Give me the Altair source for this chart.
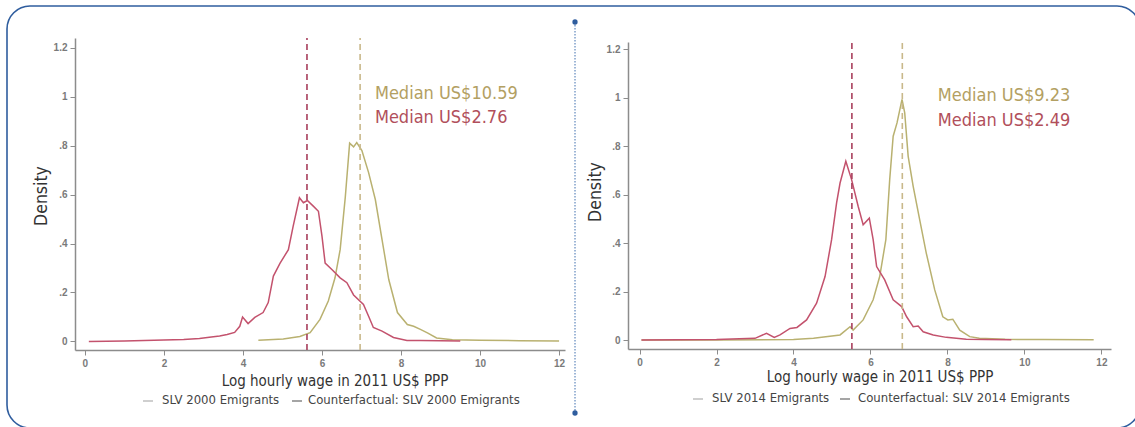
import math
import altair as alt
import pandas as pd

# Kernel density of log hourly wage (2011 US$ PPP), El Salvador emigrants.
# 2000 cohort: actual emigrants
act00_x = [4.39, 5.02, 5.44, 5.70, 5.95, 6.16, 6.33, 6.46, 6.59, 6.70, 6.80, 6.88,
           7.01, 7.18, 7.35, 7.52, 7.69, 7.91, 8.16, 8.32, 8.49, 8.68, 8.90, 9.30,
           10.0, 11.0, 12.0]
act00_y = [0.005, 0.010, 0.020, 0.036, 0.090, 0.165, 0.260, 0.375, 0.590, 0.810,
           0.795, 0.813, 0.780, 0.690, 0.580, 0.416, 0.253, 0.118, 0.069, 0.062,
           0.049, 0.034, 0.014, 0.007, 0.005, 0.003, 0.002]
# 2000 cohort: counterfactual wages at home
cf00_x = [0.10, 1.0, 2.0, 2.5, 2.9, 3.2, 3.41, 3.6, 3.79, 3.92, 3.99, 4.13, 4.30,
          4.51, 4.64, 4.77, 4.94, 5.15, 5.27, 5.43, 5.53, 5.63, 5.78, 5.91, 6.0,
          6.08, 6.25, 6.46, 6.63, 6.80, 7.05, 7.18, 7.30, 7.52, 7.81, 8.15, 8.49,
          9.0, 9.5]
cf00_y = [0.0, 0.002, 0.006, 0.008, 0.012, 0.018, 0.022, 0.028, 0.037, 0.062, 0.100,
          0.073, 0.098, 0.118, 0.159, 0.267, 0.320, 0.375, 0.470, 0.587, 0.567,
          0.576, 0.553, 0.532, 0.430, 0.320, 0.294, 0.260, 0.240, 0.190, 0.151,
          0.103, 0.057, 0.042, 0.016, 0.004, 0.004, 0.003, 0.002]

# 2014 cohort: actual emigrants
act14_x = [0.05, 2.0, 4.0, 4.52, 5.21, 5.47, 5.55, 5.81, 6.07, 6.24, 6.40, 6.50,
           6.59, 6.69, 6.82, 6.89, 6.98, 7.11, 7.28, 7.45, 7.67, 7.88, 8.01, 8.14,
           8.32, 8.58, 8.83, 9.5, 10.5, 11.8]
act14_y = [0.0, 0.0, 0.002, 0.007, 0.021, 0.055, 0.041, 0.083, 0.166, 0.262, 0.414,
           0.662, 0.841, 0.896, 0.993, 0.938, 0.758, 0.634, 0.496, 0.359, 0.207,
           0.096, 0.083, 0.086, 0.041, 0.014, 0.007, 0.003, 0.002, 0.001]
# 2014 cohort: counterfactual wages at home
cf14_x = [0.05, 1.0, 2.0, 3.0, 3.3, 3.5, 3.65, 3.91, 4.09, 4.34, 4.60, 4.82, 4.99,
          5.12, 5.21, 5.36, 5.51, 5.68, 5.81, 5.97, 6.07, 6.16, 6.37, 6.59, 6.81,
          6.94, 7.11, 7.24, 7.37, 7.63, 7.97, 8.49, 9.0, 9.66]
cf14_y = [0.0, 0.001, 0.002, 0.007, 0.028, 0.011, 0.021, 0.048, 0.052, 0.083, 0.152,
          0.262, 0.414, 0.566, 0.648, 0.738, 0.662, 0.552, 0.476, 0.503, 0.414,
          0.303, 0.248, 0.166, 0.138, 0.096, 0.055, 0.058, 0.034, 0.021, 0.011,
          0.003, 0.002, 0.001]

# Median hourly wages in US$ (actual, counterfactual)
medians_00 = [10.59, 2.76]
medians_14 = [9.23, 2.49]

legend_00 = ["SLV 2000 Emigrants", "Counterfactual: SLV 2000 Emigrants"]
legend_14 = ["SLV 2014 Emigrants", "Counterfactual: SLV 2014 Emigrants"]

x_ticks = [0, 2, 4, 6, 8, 10, 12]
y_ticks = [0, 0.2, 0.4, 0.6, 0.8, 1.0, 1.2]
x_title = "Log hourly wage in 2011 US$ PPP"
y_title = "Density"

GOLD_LINE = "#b9b170"
RED_LINE = "#c3526d"
GOLD_RULE = "#c9b88a"
RED_RULE = "#a83f5c"
GOLD_TEXT = "#b3a062"
RED_TEXT = "#b14f5b"
FRAME = "#2f5d9e"
TEXT_FONT = "Liberation Sans Narrow, DejaVu Sans Condensed, Roboto Condensed, Roboto, sans-serif"

Y_LABELS = ("datum.value == 0 ? '0' : (datum.value < 1 ? '.' + format(datum.value * 10, '.0f')"
            " : format(datum.value, '~g'))")


def panel(act_x, act_y, cf_x, cf_y, medians, xdom, xrng, ydom, yrng, label_x, label_y):
    xs = alt.Scale(domain=xdom, range=xrng, nice=False, zero=False)
    ys = alt.Scale(domain=ydom, range=yrng, nice=False, zero=False)
    xa = alt.Axis(orient="bottom", offset=yrng[0] - 427, values=x_ticks, format="d",
                  title=None, grid=False, labelFlush=False)
    ya = alt.Axis(orient="left", offset=-xrng[0], values=y_ticks, labelExpr=Y_LABELS,
                  title=None, grid=False)

    def X(f):
        return alt.X(f, type="quantitative", scale=xs, axis=xa)

    def Y(f):
        return alt.Y(f, type="quantitative", scale=ys, axis=ya)

    layers = []
    series = [(act_x, act_y, GOLD_LINE, GOLD_RULE, GOLD_TEXT, medians[0], label_y[0]),
              (cf_x, cf_y, RED_LINE, RED_RULE, RED_TEXT, medians[1], label_y[1])]
    for xv, yv, lc, rc, tc, med, ly in series:
        layers.append(
            alt.Chart(pd.DataFrame({"x": xv, "y": yv}))
            .mark_line(color=lc, strokeWidth=1.5)
            .encode(x=X("x"), y=Y("y"), order=alt.Order("x:Q"))
        )
    for xv, yv, lc, rc, tc, med, ly in series:
        # dashed rule at the median, on the log scale of the axis
        layers.append(
            alt.Chart(pd.DataFrame({"pos": [math.log(med * 100)],
                                    "lo": [ydom[0]], "hi": [ydom[1]]}))
            .mark_rule(color=rc, strokeWidth=1.6, strokeDash=[6, 4])
            .encode(x=X("pos"), y=Y("lo"), y2="hi")
        )
    for xv, yv, lc, rc, tc, med, ly in series:
        layers.append(
            alt.Chart(pd.DataFrame({"tx": [label_x], "ty": [ly],
                                    "label": [f"Median US${med:.2f}"]}))
            .mark_text(align="left", baseline="alphabetic", font=TEXT_FONT,
                       fontSize=18, color=tc)
            .encode(x=X("tx"), y=Y("ty"), text="label:N")
        )
    return alt.layer(*layers)


p00 = panel(act00_x, act00_y, cf00_x, cf00_y, medians_00,
            [-0.25, 12.15], [75, 565], [-0.035, 1.24], [350, 38], 7.34, [0.99, 0.893])
p14 = panel(act14_x, act14_y, cf14_x, cf14_y, medians_14,
            [-0.3, 12.25], [628, 1111], [-0.037, 1.23], [349, 42], 7.75, [0.986, 0.883])

one = pd.DataFrame({"k": [0]})


def text_at(s, x, y, size, color="#333333", angle=0, align="center"):
    return (alt.Chart(one)
            .mark_text(text=s, font=TEXT_FONT, fontSize=size, color=color, angle=angle,
                       align=align, baseline="middle")
            .encode(x=alt.value(x), y=alt.value(y)))


def rule_at(x, x2, y, color, width=2):
    return (alt.Chart(one).mark_rule(color=color, strokeWidth=width)
            .encode(x=alt.value(x), x2=alt.value(x2), y=alt.value(y)))


deco = [
    # rounded frame around both panels
    alt.Chart(one).mark_rect(cornerRadius=23, fill="white", fillOpacity=0,
                             stroke=FRAME, strokeWidth=1.6)
    .encode(x=alt.value(7), x2=alt.value(1140), y=alt.value(6), y2=alt.value(428)),
    # dotted divider between panels
    alt.Chart(one).mark_rule(color="#3f6fae", strokeWidth=1, strokeDash=[1.5, 1.5])
    .encode(x=alt.value(575), y=alt.value(22), y2=alt.value(413)),
    alt.Chart(one).mark_circle(size=28, color="#2f5d9e", opacity=1)
    .encode(x=alt.value(575), y=alt.value(22)),
    alt.Chart(one).mark_circle(size=28, color="#2f5d9e", opacity=1)
    .encode(x=alt.value(575), y=alt.value(413)),
    # axis titles
    text_at(y_title, 42, 196, 17.5, angle=270),
    text_at(y_title, 596, 192, 17.5, angle=270),
    text_at(x_title, 335, 381, 15),
    text_at(x_title, 880, 377, 15),
    # legends
    rule_at(143, 153, 401, "#cfcfcf"),
    text_at(legend_00[0], 162, 400, 13, color="#444444", align="left"),
    rule_at(292, 302, 401, "#a5a5a5"),
    text_at(legend_00[1], 308, 400, 13, color="#444444", align="left"),
    rule_at(693, 703, 399, "#cfcfcf"),
    text_at(legend_14[0], 712, 398, 13, color="#444444", align="left"),
    rule_at(840, 850, 399, "#a5a5a5"),
    text_at(legend_14[1], 858, 398, 13, color="#444444", align="left"),
]

chart = (
    alt.layer(p00, p14, *deco)
    .resolve_scale(x="independent", y="independent")
    .properties(width=1135, height=427, padding=0,
                autosize=alt.AutoSizeParams(type="none"), background="white")
    .configure_view(stroke=None)
    .configure_axis(labelFont="Liberation Sans", labelFontSize=10, labelColor="#7a7a7a",
                    labelFontWeight="bold", domainColor="#8c8c8c", domainWidth=1.5,
                    tickColor="#8c8c8c", tickWidth=1, tickSize=5, labelPadding=3)
)

chart.save("out.html", embed_options={"renderer": "svg", "actions": False})
